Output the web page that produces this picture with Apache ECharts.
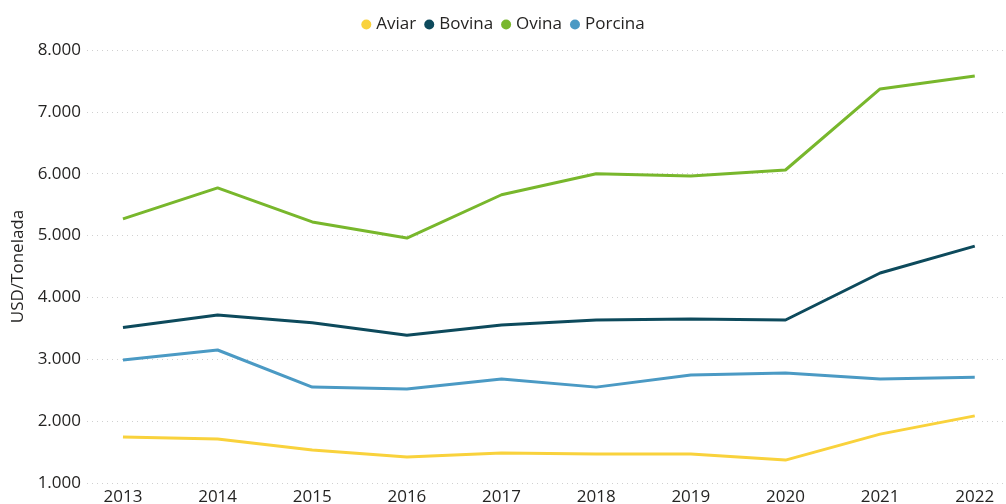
<!DOCTYPE html>
<html lang="es">

<head>
  <meta charset="UTF-8" />
  <title>USD/Tonelada</title>
  <script src="https://cdn.jsdelivr.net/npm/echarts@6/dist/echarts.min.js"></script>
  <style>
    html, body { margin: 0; padding: 0; background: #fff; }
  </style>
</head>

<body>
  <div id="main" style="width: 1006px;height:504px;"></div>
  <script type="text/javascript">
    // datos
    var years = [2013, 2014, 2015, 2016, 2017, 2018, 2019, 2020, 2021, 2022]
    var aviar = [1745, 1710, 1535, 1420, 1485, 1470, 1470, 1370, 1790, 2085]
    var bovina = [3515, 3716, 3590, 3390, 3555, 3635, 3650, 3635, 4395, 4830]
    var ovina = [5270, 5770, 5220, 4960, 5660, 6000, 5965, 6060, 7370, 7580]
    var porcina = [2990, 3150, 2550, 2520, 2680, 2550, 2745, 2780, 2680, 2710]
    var yTicks = [1000, 2000, 3000, 4000, 5000, 6000, 7000, 8000]

    var font = '"Open Sans", "Noto Sans", sans-serif'

    function pairs(arr) {
      return years.map(function (y, i) { return [y, arr[i]] })
    }

    function fmt(v) {
      return String(v).replace(/\B(?=(\d{3})+(?!\d))/g, '.')
    }

    function line(name, data, color) {
      return {
        name: name,
        type: 'line',
        data: pairs(data),
        showSymbol: false,
        symbol: 'circle',
        lineStyle: { width: 3, color: color },
        itemStyle: { color: color }
      }
    }

    var myChart = echarts.init(document.getElementById('main'))
    var option = {
      animation: false,
      textStyle: { fontFamily: font },
      legend: {
        top: 11,
        left: 'center',
        icon: 'circle',
        itemWidth: 10,
        itemHeight: 10,
        itemGap: 8,
        textStyle: { fontSize: 17, color: '#252423', fontFamily: font }
      },
      grid: {
        left: 87,
        right: 0,
        top: 50,
        bottom: 21,
        containLabel: false,
        outerBoundsMode: 'none'
      },
      xAxis: {
        type: 'value',
        min: 2012.62,
        max: 2022.33,
        axisLine: { show: false },
        axisTick: { show: false },
        splitLine: { show: false },
        axisLabel: {
          customValues: years,
          margin: 6,
          fontSize: 17,
          color: '#252423',
          fontFamily: font,
          formatter: function (v) { return String(v) }
        }
      },
      yAxis: {
        type: 'value',
        min: yTicks[0],
        max: yTicks[yTicks.length - 1],
        interval: 1000,
        name: 'USD/Tonelada',
        nameLocation: 'middle',
        nameRotate: 90,
        nameGap: 56,
        nameTextStyle: { fontSize: 17, color: '#252423', fontFamily: font },
        axisLine: { show: false },
        axisTick: { show: false },
        axisLabel: {
          margin: 6,
          fontSize: 17,
          color: '#252423',
          fontFamily: font,
          formatter: fmt
        },
        splitLine: {
          lineStyle: { color: '#d0d0d0', type: [1, 4], width: 1 }
        }
      },
      series: [
        line('Aviar', aviar, '#F9D23C'),
        line('Bovina', bovina, '#0D4A5C'),
        line('Ovina', ovina, '#78B72C'),
        line('Porcina', porcina, '#4B9AC4')
      ]
    }
    myChart.setOption(option)
  </script>
</body>

</html>
